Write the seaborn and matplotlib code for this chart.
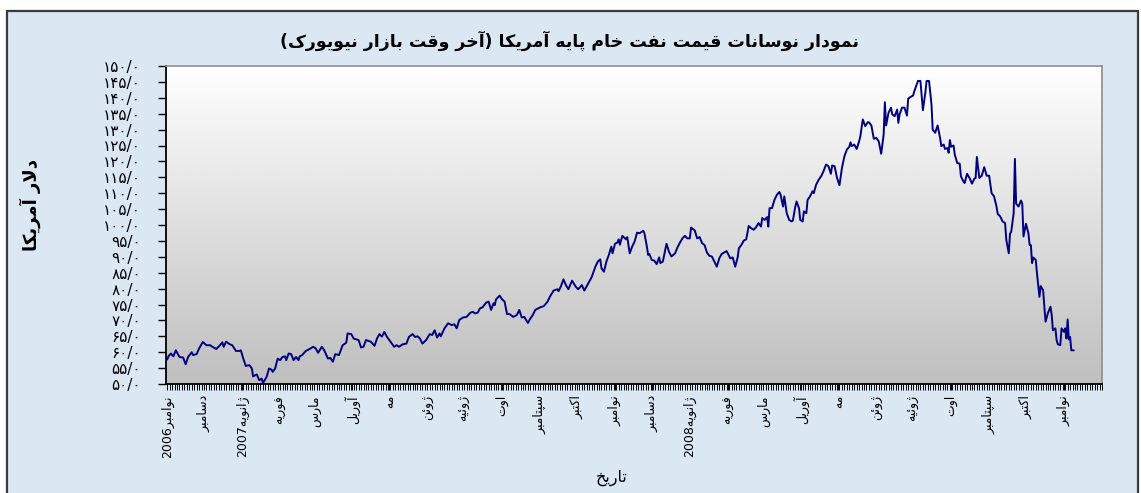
import matplotlib
matplotlib.use('Agg')
import matplotlib.pyplot as plt
import matplotlib.dates as mdates
from matplotlib.colors import LinearSegmentedColormap
from matplotlib.patches import Rectangle
import seaborn as sns
import numpy as np
import pandas as pd

# price data: day offset from 2006-11-01, price in USD
day_offsets = [
    0, 1, 3, 5, 7, 10, 13, 15, 17, 20, 21, 24, 26, 29, 32, 35, 36, 40, 43, 45,
    46, 48, 51, 53, 56, 59, 60, 62, 64, 67, 69, 70, 73, 75, 77, 78, 81, 83, 85, 86,
    88, 90, 92, 94, 96, 97, 99, 101, 103, 105, 107, 108, 110, 113, 116, 119, 121, 123, 126, 128,
    131, 133, 135, 137, 140, 143, 146, 147, 150, 152, 156, 158, 160, 162, 166, 169, 171, 173, 175, 177,
    179, 183, 185, 187,
    189, 192, 195, 197, 200, 202, 204, 206, 208, 211, 214, 216, 218, 220, 222, 223, 226, 229, 232, 234,
    236, 238, 241, 244, 247, 249, 251, 253, 255, 257, 260, 262, 264, 266, 267, 268, 271, 273, 275, 277,
    279, 282, 285, 287, 289, 291, 294, 296, 298, 300, 304, 307, 310, 312, 315, 318, 319, 321, 323, 325,
    327, 330, 333, 335, 338, 340, 343, 346, 349, 351, 353, 354, 356, 358, 360, 362, 363, 365, 367, 368,
    369, 371, 374, 375, 377, 379, 381, 383,
    385, 388, 389, 391, 392, 393, 395, 397, 399, 401, 402, 404, 407, 409, 411, 414, 416, 418, 420, 422,
    424, 426, 427, 430, 432, 434, 436, 438, 440, 442, 444, 446, 448, 450, 452, 455, 456, 459, 461, 463,
    465, 466, 468, 470, 472, 474, 476, 478, 480, 482, 484, 485, 487, 489, 490, 491, 493, 495, 497, 499,
    500, 502, 503, 505, 507, 509, 510, 512, 513, 515, 516, 518, 519, 521, 522, 524, 526, 527, 529, 531,
    533, 535, 537, 539, 541, 542, 544, 546, 548, 550, 552, 554, 556, 557, 558, 560, 562, 564, 565, 567,
    569, 571, 572,
    574, 576, 578, 580, 582, 584, 585, 586, 588, 590, 591, 593, 595, 596, 597, 599, 601, 603, 604, 606,
    608, 609, 612, 614, 616, 618, 619, 621, 623, 624, 626, 628, 630, 631, 633, 634, 636, 637, 638, 639,
    641, 642, 644, 646, 647, 649, 650, 652, 654, 656, 658, 659, 660, 662, 664, 666, 668, 670, 672, 674,
    676, 677, 679, 681, 683, 684, 686, 687, 688, 690, 691, 692, 694, 696, 697, 698, 700, 702, 703, 704,
    705, 706, 708, 709, 711, 712, 714, 715, 716, 718, 720, 721, 722, 724, 725, 726, 728, 729, 731, 732,
    733, 734, 735, 736, 737, 739,
]
prices = [
    57.7, 58.7, 59.6, 58.7, 60.6, 58.5, 58.3, 56.2, 58.5, 60.0, 59.1, 59.4, 61.2, 63.2, 62.2, 62.2, 61.9, 61.0, 62.2, 63.1,
    61.7, 63.3, 62.5, 62.2, 60.4, 60.4, 60.6, 58.0, 55.7, 55.9, 54.9, 52.4, 53.0, 51.2, 51.7, 50.3, 52.2, 54.9, 54.5, 53.8,
    54.9, 58.0, 57.5, 58.5, 58.7, 57.5, 59.6, 59.4, 57.5, 58.5, 57.5, 58.7, 59.1, 60.4, 61.0, 61.7, 61.2, 59.8, 61.7, 60.6,
    58.0, 58.2, 57.0, 59.4, 59.1, 62.2, 63.0, 65.9, 65.7, 64.3, 63.8, 61.5, 61.7, 63.8, 63.3, 62.0, 64.3, 65.7, 64.9, 66.4,
    64.9, 62.8, 61.7, 62.2,
    61.7, 62.5, 62.7, 64.8, 65.7, 64.8, 65.0, 64.3, 62.7, 63.8, 65.7, 65.4, 66.9, 64.6, 65.9, 65.0, 67.5, 69.1, 68.5, 68.8,
    67.5, 70.1, 70.9, 71.1, 72.4, 72.7, 72.2, 72.4, 73.8, 74.1, 75.6, 75.9, 73.3, 75.4, 74.8, 76.6, 77.8, 76.6, 75.9, 72.0,
    72.0, 71.1, 71.7, 73.3, 70.9, 71.1, 69.2, 70.6, 71.7, 73.3, 74.1, 74.5, 75.9, 77.5, 79.4, 79.8, 79.2, 80.8, 82.9, 81.1,
    79.8, 82.5, 80.6, 79.8, 81.1, 79.4, 81.5, 83.6, 86.9, 88.5, 89.2, 86.4, 85.3, 88.5, 90.6, 93.2, 91.1, 94.1, 94.5, 95.5,
    93.8, 96.6, 95.5, 96.2, 91.1, 93.2, 94.8, 97.6,
    97.4, 98.2, 97.4, 93.2, 90.6, 90.9, 89.0, 88.8, 87.7, 89.8, 88.0, 88.5, 94.1, 91.6, 90.1, 91.1, 93.0, 94.5, 95.8, 96.6,
    95.8, 95.8, 99.2, 98.3, 95.8, 96.2, 94.3, 93.7, 91.3, 90.3, 90.1, 88.5, 86.9, 89.5, 90.9, 91.6, 91.8, 89.5, 89.8, 86.9,
    89.8, 92.7, 93.7, 95.1, 95.5, 99.7, 99.0, 98.5, 99.3, 100.6, 99.5, 102.2, 101.6, 102.5, 99.5, 105.3, 105.3, 107.9, 109.5, 110.4,
    109.5, 105.8, 109.0, 103.7, 101.6, 101.1, 101.4, 105.8, 107.4, 105.3, 101.6, 101.1, 104.3, 103.7, 107.9, 109.0, 110.6, 110.0, 112.7, 114.2,
    115.3, 116.9, 119.0, 118.5, 116.1, 118.7, 118.5, 114.8, 112.5, 117.9, 121.6, 123.7, 124.6, 126.0, 124.8, 125.3, 123.9, 126.3, 127.9, 133.2,
    131.1, 132.3, 132.3,
    131.3, 127.1, 127.4, 126.3, 122.4, 128.4, 138.6, 131.3, 135.3, 136.9, 134.8, 134.2, 136.3, 132.1, 134.8, 136.9, 136.9, 134.4, 139.7, 140.3,
    140.7, 142.1, 145.3, 145.3, 136.1, 141.6, 145.3, 145.3, 137.9, 130.0, 129.0, 131.3, 127.4, 124.8, 125.3, 123.9, 124.2, 122.7, 126.7, 124.6,
    125.0, 122.1, 119.5, 119.3, 115.3, 113.7, 113.2, 116.1, 114.8, 113.0, 114.6, 114.8, 121.4, 114.8, 115.5, 118.2, 115.5, 115.5, 110.0, 109.0,
    105.8, 103.5, 102.7, 101.1, 100.6, 95.3, 91.1, 97.2, 97.9, 103.7, 120.8, 106.7, 105.8, 107.7, 106.7, 96.4, 100.4, 97.4, 93.7, 93.7,
    88.0, 89.8, 89.0, 84.8, 77.4, 80.8, 79.5, 74.3, 69.6, 72.4, 74.3, 71.7, 66.9, 67.5, 63.8, 62.5, 62.2, 67.5, 66.4, 67.5,
    64.3, 70.3, 64.0, 64.8, 60.6, 60.6,
]

month_labels = ['نوامبر2006', 'دسامبر', 'ژانویه2007', 'فوریه', 'مارس', 'آوریل', 'مه', 'ژوئن',
                'ژوئیه', 'اوت', 'سپتامبر', 'اکتبر', 'نوامبر', 'دسامبر', 'ژانویه2008', 'فوریه',
                'مارس', 'آوریل', 'مه', 'ژوئن', 'ژوئیه', 'اوت', 'سپتامبر', 'اکتبر', 'نوامبر']
y_ticks = list(range(50, 151, 5))

title = 'نمودار نوسانات قیمت نفت خام پایه آمریکا (آخر وقت بازار نیویورک)'
y_title = 'دلار آمریکا'
x_title = 'تاریخ'

# --- minimal persian shaping, matplotlib has no complex text layout ---
FORMS = {
    'ا': (0xFE8D, 0xFE8E, None, None), 'آ': (0xFE81, 0xFE82, None, None),
    'ب': (0xFE8F, 0xFE90, 0xFE91, 0xFE92), 'پ': (0xFB56, 0xFB57, 0xFB58, 0xFB59),
    'ت': (0xFE95, 0xFE96, 0xFE97, 0xFE98), 'خ': (0xFEA5, 0xFEA6, 0xFEA7, 0xFEA8),
    'د': (0xFEA9, 0xFEAA, None, None), 'ر': (0xFEAD, 0xFEAE, None, None),
    'ز': (0xFEAF, 0xFEB0, None, None), 'ژ': (0xFB8A, 0xFB8B, None, None),
    'س': (0xFEB1, 0xFEB2, 0xFEB3, 0xFEB4), 'ف': (0xFED1, 0xFED2, 0xFED3, 0xFED4),
    'ق': (0xFED5, 0xFED6, 0xFED7, 0xFED8), 'ک': (0xFB8E, 0xFB8F, 0xFB90, 0xFB91),
    'ل': (0xFEDD, 0xFEDE, 0xFEDF, 0xFEE0), 'م': (0xFEE1, 0xFEE2, 0xFEE3, 0xFEE4),
    'ن': (0xFEE5, 0xFEE6, 0xFEE7, 0xFEE8), 'ه': (0xFEE9, 0xFEEA, 0xFEEB, 0xFEEC),
    'و': (0xFEED, 0xFEEE, None, None), 'ی': (0xFBFC, 0xFBFD, 0xFBFE, 0xFBFF),
    'ئ': (0xFE89, 0xFE8A, 0xFE8B, 0xFE8C),
}
LAM_ALEF = {'ا': (0xFEFB, 0xFEFC), 'آ': (0xFEF5, 0xFEF6)}


def shape(word):
    def dual(c):
        return c in FORMS and FORMS[c][2] is not None
    out = []
    i = 0
    while i < len(word):
        c = word[i]
        if c not in FORMS:
            out.append(c)
            i += 1
            continue
        link_prev = i > 0 and dual(word[i - 1])
        if c == 'ل' and i + 1 < len(word) and word[i + 1] in LAM_ALEF:
            iso, fin = LAM_ALEF[word[i + 1]]
            out.append(chr(fin if link_prev else iso))
            i += 2
            continue
        link_next = dual(c) and i + 1 < len(word) and word[i + 1] in FORMS
        iso, fin, ini, med = FORMS[c]
        if link_prev and link_next:
            g = med
        elif link_prev:
            g = fin
        elif link_next:
            g = ini
        else:
            g = iso
        out.append(chr(g))
        i += 1
    return ''.join(out)


def fa(text):
    s = shape(text)
    runs = []
    for ch in s:
        ltr = ch.isascii() and ch.isalnum()
        if runs and runs[-1][0] == ltr:
            runs[-1][1].append(ch)
        else:
            runs.append((ltr, [ch]))
    mirror = {'(': ')', ')': '('}
    res = ''
    for ltr, chars in reversed(runs):
        if ltr:
            res += ''.join(chars)
        else:
            res += ''.join(mirror.get(c, c) for c in reversed(chars))
    return res


def fa_num(v):
    return str(v).translate(str.maketrans('0123456789', '۰۱۲۳۴۵۶۷۸۹')) + '/۰'


sns.set_style('ticks')
plt.rcParams['font.family'] = ['DejaVu Sans']
plt.rcParams['text.color'] = 'black'
plt.rcParams['xtick.color'] = 'black'
plt.rcParams['ytick.color'] = 'black'
plt.rcParams['xtick.labelcolor'] = 'black'
plt.rcParams['ytick.labelcolor'] = 'black'

fig = plt.figure(figsize=(11.41, 4.93), dpi=100, facecolor='white')
W, H = 1141, 493

# light blue frame with dark border, behind the axes
fig.patches.append(Rectangle((7 / W, -0.02), (1138 - 7) / W, (H - 11) / H + 0.02,
                             transform=fig.transFigure, facecolor='#dbe7f3',
                             edgecolor='#3a3a3a', linewidth=1.6, zorder=-5))

ax = fig.add_axes([166 / W, 1 - 384 / H, (1102 - 166) / W, (384 - 66) / H])
ax.set_zorder(2)

# grey gradient plot area
grad = np.linspace(1, 0, 256).reshape(-1, 1)
cmap = LinearSegmentedColormap.from_list('bg', ['#bfbfbf', '#ffffff'])
ax.imshow(grad, extent=[0, 1, 0, 1], transform=ax.transAxes, aspect='auto',
          cmap=cmap, zorder=0, interpolation='bicubic')

dates = pd.Timestamp('2006-11-01') + pd.to_timedelta(day_offsets, unit='D')
df = pd.DataFrame({'date': dates, 'price': prices})
sns.lineplot(data=df, x='date', y='price', ax=ax, color='#000080', linewidth=1.4, zorder=3)

ax.set_xlim(pd.Timestamp('2006-10-31'), pd.Timestamp('2008-12-02'))
ax.set_ylim(50, 150)
ax.set_xlabel('')
ax.set_ylabel('')

ax.set_yticks(y_ticks)
ax.set_yticklabels([fa_num(v) for v in y_ticks], fontsize=11)
ax.tick_params(axis='y', length=6, width=1, color='black', pad=12)

ticks = pd.date_range('2006-11-01', '2008-11-01', freq='MS')
ax.set_xticks(ticks)
ax.set_xticklabels([fa(m) for m in month_labels], rotation=90, va='top', ha='center', fontsize=9)
ax.xaxis.set_minor_locator(mdates.DayLocator(interval=2))
ax.tick_params(axis='x', which='both', length=4, width=0.7, color='black', pad=4)

for side in ['top', 'right']:
    ax.spines[side].set_color('#8c8c8c')
    ax.spines[side].set_linewidth(1.2)
for side in ['left', 'bottom']:
    ax.spines[side].set_color('black')
    ax.spines[side].set_linewidth(1.3)

fig.text(570 / W, 1 - 41 / H, fa(title), ha='center', va='center', fontsize=12.5, fontweight='bold')
fig.text(30 / W, 1 - 205 / H, fa(y_title), ha='center', va='center', rotation=90,
         fontsize=13, fontweight='bold')
fig.text(612 / W, 1 - 478 / H, fa(x_title), ha='center', va='center', fontsize=11.5)

fig.savefig('out.png', dpi=100, facecolor='white')
